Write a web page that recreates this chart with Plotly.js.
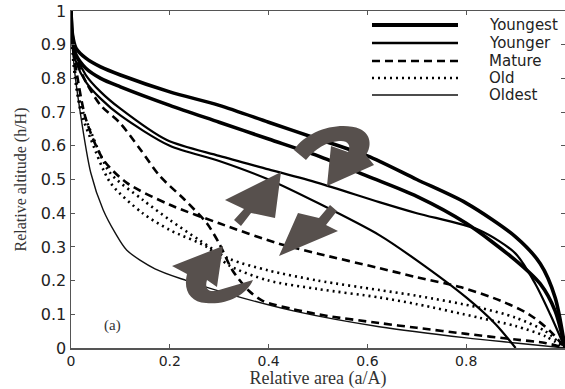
<!DOCTYPE html>
<html>
<head>
<meta charset="utf-8">
<script src="https://cdn.plot.ly/plotly-3.0.1.min.js"></script>
<style>html,body{margin:0;padding:0;background:#fff;overflow:hidden}#chart{width:565px;height:389px}</style>
</head>
<body>
<div id="chart"></div>
<script>
// ---- data ----
const categories = ["Youngest", "Younger", "Mature", "Old", "Oldest"];

const youngest1_x = [0,0.003,0.01,0.03,0.06,0.1,0.2,0.3,0.4,0.5,0.6,0.7,0.8,0.9,0.95,0.98,1];
const youngest1_y = [1,0.93,0.89,0.86,0.834,0.81,0.76,0.72,0.67,0.62,0.57,0.5,0.43,0.33,0.25,0.15,0];
const youngest2_x = [0,0.003,0.01,0.03,0.06,0.1,0.2,0.3,0.4,0.5,0.6,0.7,0.8,0.9,0.95,0.98,1];
const youngest2_y = [1,0.92,0.87,0.83,0.8,0.775,0.72,0.67,0.62,0.57,0.51,0.45,0.37,0.26,0.19,0.11,0];

const younger1_x = [0,0.003,0.01,0.03,0.06,0.1,0.194,0.3,0.4,0.5,0.624,0.7,0.826,0.9,0.94,0.97,1];
const younger1_y = [1,0.92,0.87,0.81,0.76,0.71,0.617,0.57,0.53,0.49,0.433,0.4,0.35,0.28,0.19,0.1,0];
const younger2_x = [0,0.003,0.01,0.03,0.06,0.1,0.2,0.3,0.4,0.5,0.624,0.7,0.8,0.86,0.9];
const younger2_y = [1,0.9,0.85,0.79,0.74,0.69,0.6,0.555,0.5,0.43,0.335,0.26,0.15,0.07,0];

const mature1_x = [0,0.003,0.01,0.03,0.065,0.113,0.2,0.3,0.42,0.5,0.624,0.7,0.79,0.87,0.927,0.97,1];
const mature1_y = [1,0.9,0.83,0.68,0.56,0.49,0.425,0.37,0.31,0.28,0.237,0.21,0.18,0.14,0.1,0.05,0];
const mature2_x = [0,0.003,0.01,0.03,0.06,0.099,0.14,0.18,0.23,0.275,0.3,0.327,0.36,0.388,0.45,0.52,0.624,0.7,0.8,0.9,0.96,1];
const mature2_y = [1,0.92,0.86,0.79,0.72,0.668,0.59,0.51,0.44,0.37,0.31,0.23,0.17,0.14,0.115,0.095,0.074,0.06,0.042,0.025,0.015,0];

const old1_x = [0,0.003,0.01,0.02,0.038,0.079,0.145,0.2,0.26,0.32,0.4,0.5,0.624,0.7,0.826,0.9,0.96,1];
const old1_y = [1,0.9,0.8,0.72,0.65,0.52,0.44,0.38,0.32,0.265,0.23,0.2,0.172,0.155,0.12,0.09,0.05,0];
const old2_x = [0,0.003,0.01,0.02,0.04,0.08,0.145,0.2,0.275,0.32,0.4,0.5,0.624,0.7,0.826,0.9,0.96,1];
const old2_y = [1,0.88,0.78,0.7,0.62,0.49,0.4,0.35,0.3,0.245,0.2,0.175,0.15,0.13,0.09,0.065,0.035,0];

const oldest_x = [0,0.002,0.006,0.018,0.04,0.065,0.09,0.113,0.17,0.234,0.32,0.45,0.624,0.8,0.9,1];
const oldest_y = [1,0.93,0.84,0.706,0.52,0.41,0.34,0.29,0.235,0.2,0.16,0.11,0.063,0.03,0.015,0];

const x_tickvals = [0,0.2,0.4,0.6,0.8,1];
const x_ticktext = ["0","0.2","0.4","0.6","0.8","1"];
const y_tickvals = [0,0.1,0.2,0.3,0.4,0.5,0.6,0.7,0.8,0.9,1];
const y_ticktext = ["0","0.1","0.2","0.3","0.4","0.5","0.6","0.7","0.8","0.9","1"];

// ---- styles ----
const styles = {
  Youngest: {color:"#000", width:3.6, dash:"solid"},
  Younger:  {color:"#000", width:2.2, dash:"solid"},
  Mature:   {color:"#000", width:2.6, dash:"8px,5px"},
  Old:      {color:"#000", width:2.6, dash:"2px,4px"},
  Oldest:   {color:"#111", width:1.4, dash:"solid"}
};

function tr(x, y, cat) {
  return {x:x, y:y, type:"scatter", mode:"lines", name:cat, showlegend:false,
    line:{color:styles[cat].color, width:styles[cat].width, dash:styles[cat].dash, shape:"spline", smoothing:0.8},
    hoverinfo:"skip"};
}
const data = [
  tr(oldest_x, oldest_y, "Oldest"),
  tr(old1_x, old1_y, "Old"), tr(old2_x, old2_y, "Old"),
  tr(mature1_x, mature1_y, "Mature"), tr(mature2_x, mature2_y, "Mature"),
  tr(younger1_x, younger1_y, "Younger"), tr(younger2_x, younger2_y, "Younger"),
  tr(youngest1_x, youngest1_y, "Youngest"), tr(youngest2_x, youngest2_y, "Youngest")
];

// ---- geometry helpers for decorations (pixel -> paper) ----
const M = {l:71, r:0, t:11, b:41};
const W = 565, H = 389;
const PW = W - M.l - M.r, PH = H - M.t - M.b;
function fx(px){ return ((px - M.l) / PW).toFixed(4); }
function fy(py){ return ((H - M.b - py) / PH).toFixed(4); }
function path(cmds){
  return cmds.map(c => {
    const op = c[0]; let s = op;
    for (let i = 1; i < c.length; i += 2) s += (i>1?" ":"") + fx(c[i]) + "," + fy(c[i+1]);
    return s;
  }).join(" ") + " Z";
}
const arrowColor = "#57504d";
const shapes = [];
function arrowShape(cmds){
  shapes.push({type:"path", xref:"paper", yref:"paper", path:path(cmds),
    fillcolor:arrowColor, line:{width:0}, layer:"above"});
}
// top-right U-turn arrow
arrowShape([["M",294,150],["C",307,130,340,121,360,129],["C",371,134,372,146,366,155],["L",374,165],["L",327,186],["L",331,146],["L",348,152],["C",352,145,347,140,339,141],["C",326,142,315,149,306,160]]);
// straight arrow up-right
arrowShape([["M",234,220],["L",244,209],["L",225,200],["L",281,172],["L",275,218],["L",251,213],["L",241,226]]);
// straight arrow down-left
arrowShape([["M",330,205],["L",319,218],["L",298,213],["L",279,256],["L",338,231],["L",326,225],["L",337,211]]);
// bottom-left U-turn arrow
arrowShape([["M",172,266],["L",223,246],["L",217,287],["L",207,280],["C",204,290,210,293,219,290],["L",253,280],["C",246,296,226,305,206,303],["C",190,302,183,290,187,274]]);

// manual legend (long line samples as in the reference)
const legendRows = [25, 43, 61, 78, 95];
const annotations = [];
categories.forEach((cat, i) => {
  shapes.push({type:"line", xref:"paper", yref:"paper",
    x0:fx(372), x1:fx(458), y0:fy(legendRows[i]), y1:fy(legendRows[i]),
    line:{color:styles[cat].color, width: cat==="Youngest"?4:(cat==="Oldest"?1.6:2.4), dash:styles[cat].dash}});
  annotations.push({xref:"paper", yref:"paper", x:fx(487), y:fy(legendRows[i]), xanchor:"left", yanchor:"middle",
    text:cat, showarrow:false, font:{family:"DejaVu Sans", size:15, color:"#222"}});
});
annotations.push({xref:"paper", yref:"paper", x:fx(112), y:fy(325), xanchor:"center", yanchor:"middle",
  text:"(a)", showarrow:false, font:{family:"Liberation Serif", size:15, color:"#333"}});

const axisCommon = {
  range:[0,1], showgrid:false, zeroline:false, showline:true, mirror:"ticks",
  linecolor:"#555", linewidth:1.5, ticks:"inside", ticklen:4, tickcolor:"#555", tickwidth:1,
  tickfont:{family:"DejaVu Sans", size:14, color:"#222"}, fixedrange:true
};
const layout = {
  width:W, height:H, margin:M, paper_bgcolor:"#fff", plot_bgcolor:"#fff", showlegend:false,
  xaxis: Object.assign({}, axisCommon, {tickvals:x_tickvals, ticktext:x_ticktext,
    title:{text:"Relative area (a/A)", font:{family:"Liberation Serif", size:18, color:"#333"}, standoff:4}}),
  yaxis: Object.assign({}, axisCommon, {tickvals:y_tickvals, ticktext:y_ticktext,
    tickfont:{family:"DejaVu Sans", size:16, color:"#222"},
    title:{text:"Relative altitude (h/H)", font:{family:"Liberation Serif", size:16, color:"#333"}, standoff:10}}),
  shapes:shapes, annotations:annotations
};
Plotly.newPlot("chart", data, layout, {staticPlot:true, displayModeBar:false});
</script>
</body>
</html>
